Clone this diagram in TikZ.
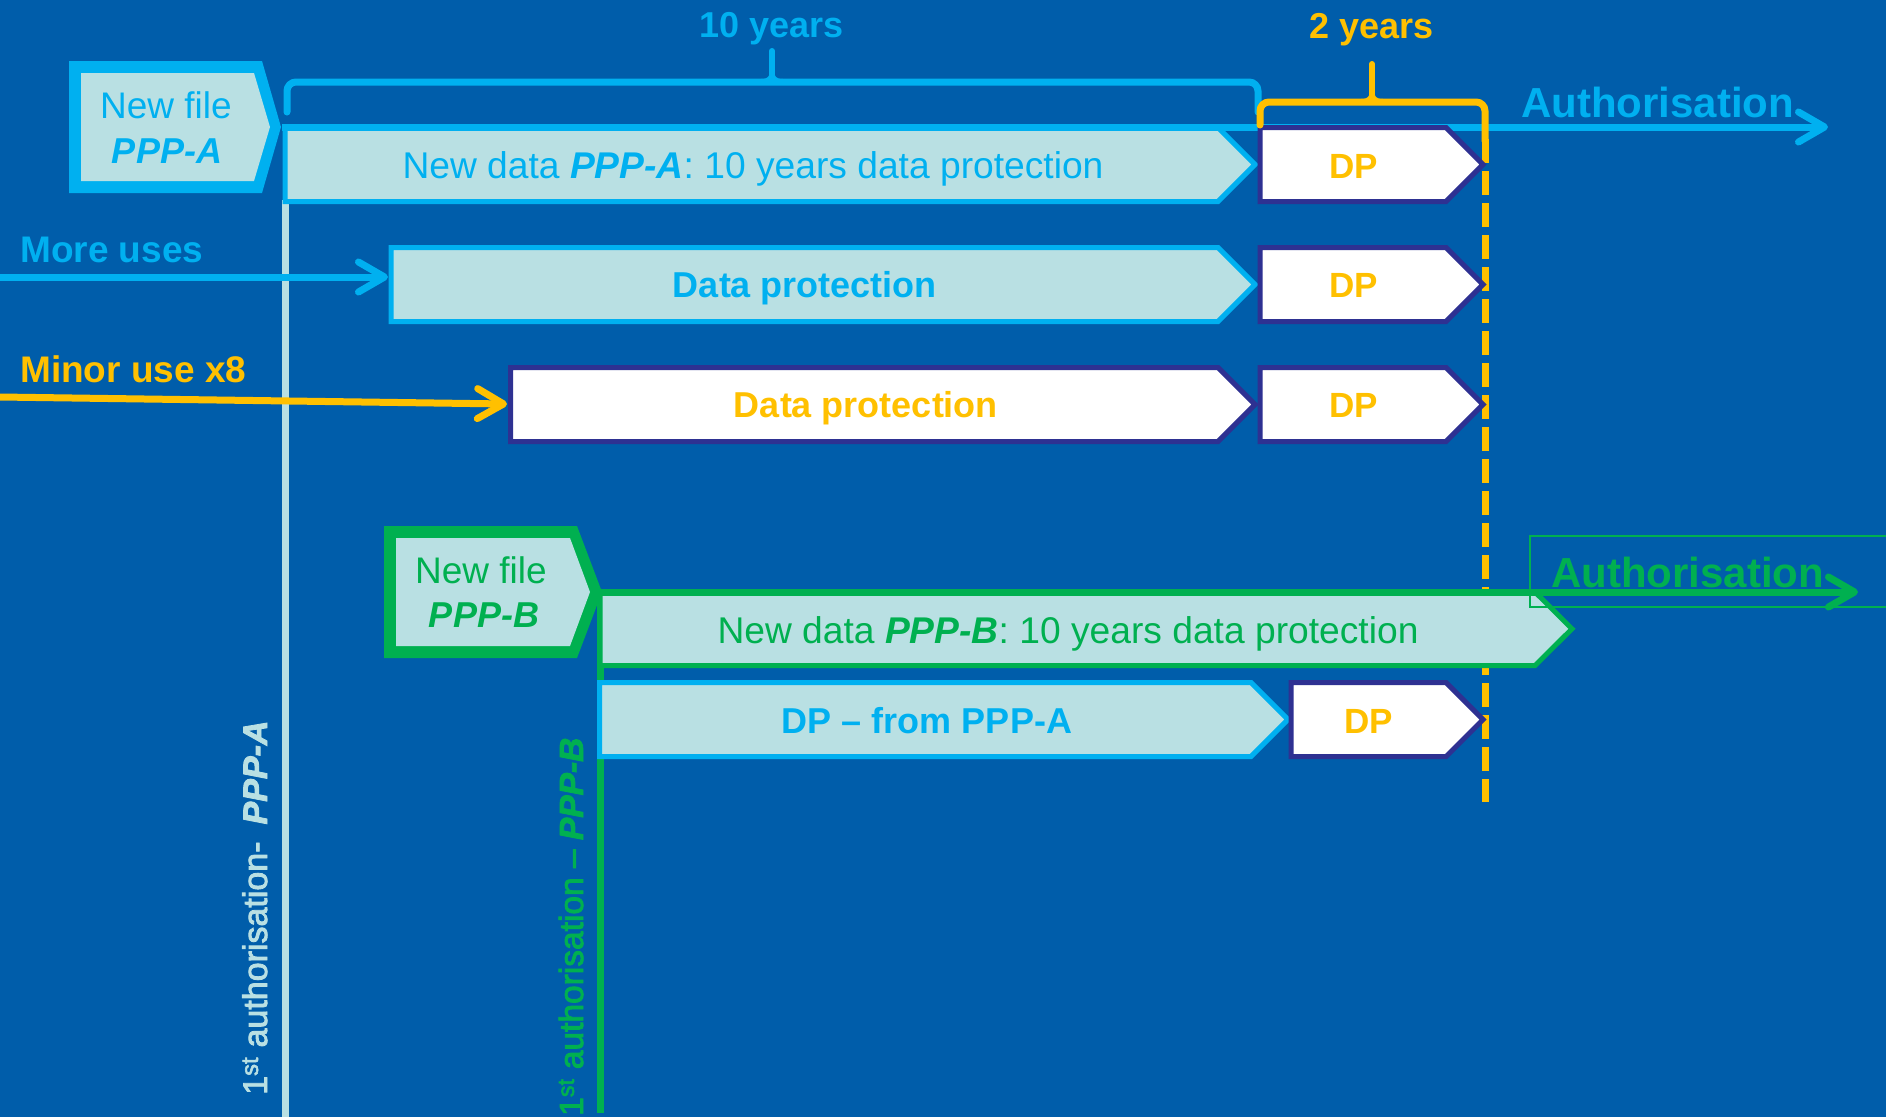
\documentclass[tikz,border=0pt]{standalone}
\usepackage{fontspec}
\setmainfont{Liberation Sans}
\newfontfamily\heavysans[FakeBold=2.5]{Liberation Sans}
\usetikzlibrary{arrows.meta}

\definecolor{bg}{HTML}{005DAA}
\definecolor{pale}{HTML}{B9E0E3}
\definecolor{cyanA}{HTML}{00B0F0}
\definecolor{gold}{HTML}{FFC000}
\definecolor{greenB}{HTML}{00B050}
\definecolor{navy}{HTML}{2E3192}

\newcommand\fs[1]{\fontsize{#1}{#1}\selectfont}
\newcommand\bi[1]{\textbf{\textit{#1}}}

\begin{document}
\begin{tikzpicture}[x=1pt,y=-1pt,
  txt/.style={inner sep=0pt, anchor=base},
  lbar/.style={fill=pale, draw=cyanA, line width=5pt},
  wbar/.style={fill=white, draw=navy, line width=5pt},
  gbar/.style={fill=pale, draw=greenB, line width=5pt},
  arr/.style={line width=7pt, -{Straight Barb[length=26pt,width=30pt,round]}},
  brace/.style={line width=7pt, line cap=round, rounded corners=9pt},
  stem/.style={line width=6pt, line cap=round}
]
\useasboundingbox (0,0) rectangle (1886,1117);
\fill[bg] (0,0) rectangle (1886,1117);

% time marks of the first authorisations and end of protection
\coordinate (vA0) at (285,200);  \coordinate (vA1) at (285,1117);
\coordinate (vB0) at (600,592);  \coordinate (vB1) at (600,1113);
\coordinate (dp0) at (1485,139); \coordinate (dp1) at (1485,802);
\draw[pale, line width=7pt] (vA0) -- (vA1);
\draw[greenB, line width=7pt] (vB0) -- (vB1);
\draw[gold, line width=7pt, dash pattern=on 24pt off 8pt] (dp0) -- (dp1);

% brace over the ten years
\draw[cyanA, brace] (287,112) -- (287,82) -- (1258,82) -- (1258,112);
\draw[cyanA, stem] (772,76) -- (772,51);
\draw[cyanA, line width=4pt] (761,81) .. controls (769,81) and (772,78) .. (772,70);
\draw[cyanA, line width=4pt] (783,81) .. controls (775,81) and (772,78) .. (772,70);

% protection bars
\path[lbar] (285,127.5) -- (1218,127.5) -- (1255,164.5) -- (1218,201.5) -- (285,201.5) -- cycle;
\path[lbar] (391,247.5) -- (1218,247.5) -- (1255,284.5) -- (1218,321.5) -- (391,321.5) -- cycle;
\path[wbar] (510.5,367.5) -- (1218,367.5) -- (1255,404.5) -- (1218,441.5) -- (510.5,441.5) -- cycle;
\path[lbar] (599.5,682.5) -- (1251,682.5) -- (1288,719.5) -- (1251,756.5) -- (599.5,756.5) -- cycle;

% authorisation line of PPP-A
\coordinate (auA0) at (282,127);
\coordinate (auA1) at (1828,127);
\draw[arr, cyanA] (auA0) -- (auA1);

% two extra years
\path[wbar] (1260,127.5) -- (1446,127.5) -- (1483,164.5) -- (1446,201.5) -- (1260,201.5) -- cycle;
\path[wbar] (1260,247.5) -- (1446,247.5) -- (1483,284.5) -- (1446,321.5) -- (1260,321.5) -- cycle;
\path[wbar] (1260,367.5) -- (1446,367.5) -- (1483,404.5) -- (1446,441.5) -- (1260,441.5) -- cycle;
\path[wbar] (1291,682.5) -- (1446,682.5) -- (1483,719.5) -- (1446,756.5) -- (1291,756.5) -- cycle;

% brace over the two years
\draw[gold, brace] (1260,125) -- (1260,102) -- (1485,102) -- (1485,141);
\draw[gold, stem] (1372,96) -- (1372,64);
\draw[gold, line width=4pt] (1361,101) .. controls (1369,101) and (1372,98) .. (1372,90);
\draw[gold, line width=4pt] (1383,101) .. controls (1375,101) and (1372,98) .. (1372,90);

% PPP-B bar, its label frame and authorisation line
\path[gbar] (600,592) -- (1535,592) -- (1572,628.8) -- (1535,665.5) -- (600,665.5) -- cycle;
\draw[greenB, line width=2.5pt] (1530,536) rectangle (1892,607);
\coordinate (auB0) at (600,592);
\coordinate (auB1) at (1858,592);
\draw[arr, greenB] (auB0) -- (auB1);

% incoming uses
\coordinate (mu0) at (0,277);   \coordinate (bar2w) at (388,277);
\coordinate (mi0) at (0,397);   \coordinate (bar3w) at (507,404);
\draw[arr, cyanA] (mu0) -- (bar2w);
\draw[arr, gold] (mi0) -- (bar3w);

% file boxes
\fill[cyanA] (69,61) -- (262,61) -- (281,127) -- (262,193) -- (69,193) -- cycle;
\fill[pale] (81,73) -- (254,73) -- (270,127) -- (254,181) -- (81,181) -- cycle;
\fill[greenB] (384,526) -- (577,526) -- (602,592) -- (577,658) -- (384,658) -- cycle;
\fill[pale] (396,538) -- (570,538) -- (590,592) -- (570,646) -- (396,646) -- cycle;

% labels
\node[txt, text=cyanA] (nfA1) at (166,118) {\fs{37}New file};
\node[txt, text=cyanA] (nfA2) at (167,163) {\fs{36}\bi{PPP-A}};
\node[txt, text=greenB] (nfB1) at (481,583) {\fs{37}New file};
\node[txt, text=greenB] (nfB2) at (484,627) {\fs{36}\bi{PPP-B}};

\node[txt, text=cyanA] (ten) at (772,37) {\fs{36}\textbf{10 years}};
\node[txt, text=gold] (two) at (1372,38) {\fs{36}\textbf{2 years}};

\node[txt, text=cyanA, anchor=base west] (authA) at (1521,117) {\fs{42}\textbf{Authorisation}};
\node[txt, text=greenB, anchor=base west] (authB) at (1551,587) {\fs{42}\textbf{Authorisation}};

\node[txt, text=cyanA, anchor=base west] (more) at (20,262) {\fs{37}\textbf{More uses}};
\node[txt, text=gold, anchor=base west] (minor) at (20,382) {\fs{37}\textbf{Minor use x8}};

\node[txt, text=cyanA] (r1) at (753,178) {\fs{37.2}New data \bi{PPP-A}: 10 years data protection};
\node[txt, text=cyanA] (r2) at (805,297.5) {\fs{36}\textbf{Data protection}};
\node[txt, text=gold] (r3) at (866,417.5) {\fs{36}\textbf{Data protection}};
\node[txt, text=greenB] (rB) at (1068,643) {\fs{37.2}New data \bi{PPP-B}: 10 years data protection};
\node[txt, text=cyanA] (r4) at (927,733) {\fs{36}\textbf{DP – from PPP-A}};

\node[txt, text=gold] (dpa) at (1354,178) {\fs{35}\textbf{DP}};
\node[txt, text=gold] (dpb) at (1354,297.5) {\fs{35}\textbf{DP}};
\node[txt, text=gold] (dpc) at (1354,417.5) {\fs{35}\textbf{DP}};
\node[txt, text=gold] (dpd) at (1369,733) {\fs{35}\textbf{DP}};

\node[txt, text=pale, anchor=base west, rotate=90] (firstA) at (267,1095)
  {\heavysans\fs{34}1\textsuperscript{st} authorisation-\hspace{0.5em}\bi{PPP-A}};
\node[txt, text=greenB, anchor=base west, rotate=90] (firstB) at (583,1116)
  {\heavysans\fs{33.5}1\textsuperscript{st} authorisation – \bi{PPP-B}};
\end{tikzpicture}
\end{document}
